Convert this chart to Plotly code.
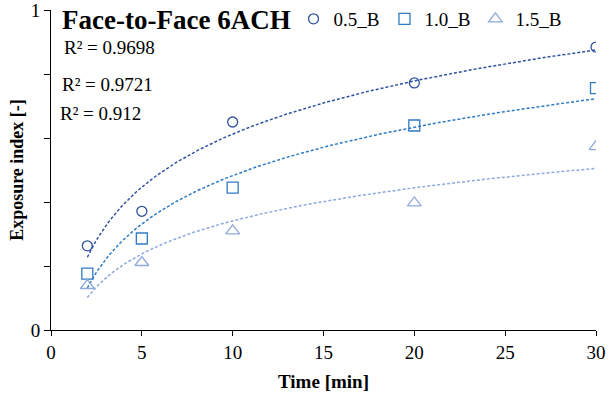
import numpy as np
import plotly.graph_objects as go

time_min = [2, 5, 10, 20, 30]
series_names = ["0.5_B", "1.0_B", "1.5_B"]
values_05 = [0.263, 0.371, 0.650, 0.772, 0.884]
values_10 = [0.176, 0.286, 0.445, 0.639, 0.756]
values_15 = [0.139, 0.211, 0.310, 0.397, 0.573]
r2_labels = ["R² = 0.9698", "R² = 0.9721", "R² = 0.912"]
y_tickvals = [0, 0.2, 0.4, 0.6, 0.8, 1]
y_ticktext = ["0", "", "", "", "", "1"]
x_tickvals = [0, 5, 10, 15, 20, 25, 30]

colors = ["#2F52A0", "#2E7BC4", "#8FAADC"]
symbols = ["circle-open", "square-open", "triangle-up-open"]
sizes = [10, 11, 12]
all_values = [values_05, values_10, values_15]

FONT = "Liberation Serif, Times New Roman, serif"

fig = go.Figure()
x_fit = np.linspace(min(time_min), max(time_min), 200)
for name, vals, col in zip(series_names, all_values, colors):
    a, b = np.polyfit(np.log(time_min), vals, 1)
    fig.add_trace(go.Scatter(
        x=x_fit, y=a * np.log(x_fit) + b, mode="lines",
        line=dict(color=col, width=1.5, dash="3px,2px"),
        showlegend=False, hoverinfo="skip"))

for name, vals, col, sym, sz in zip(series_names, all_values, colors, symbols, sizes):
    fig.add_trace(go.Scatter(
        x=time_min, y=vals, mode="markers", name=name,
        marker=dict(symbol=sym, size=sz, color=col, line=dict(color=col, width=1.3))))

fig.update_layout(
    width=609, height=400,
    margin=dict(l=51, r=13, t=10, b=70, autoexpand=False),
    paper_bgcolor="white", plot_bgcolor="white",
    font=dict(family=FONT, size=18, color="black"),
    showlegend=True,
    legend=dict(orientation="h", x=0.445, y=0.972, xanchor="left", yanchor="middle",
                bgcolor="rgba(0,0,0,0)", font=dict(size=19, family=FONT),
                itemwidth=30, tracegroupgap=0),
    xaxis=dict(range=[0, 30], tickvals=x_tickvals, showline=True, linecolor="black",
               linewidth=1, ticks="outside", ticklen=5, tickcolor="black",
               showgrid=False, zeroline=False, tickfont=dict(size=19), automargin=False,
               ticklabeloverflow="allow",
               title=dict(text="<b>Time [min]</b>", font=dict(size=19), standoff=12)),
    yaxis=dict(range=[0, 1], tickvals=y_tickvals, ticktext=y_ticktext, showline=True,
               linecolor="black", linewidth=1, ticks="outside", ticklen=6,
               tickcolor="black", showgrid=False, zeroline=False, automargin=False,
               tickfont=dict(size=19), ticklabeloverflow="allow",
               title=dict(text="<b>Exposure index [-]</b>", font=dict(size=18), standoff=2)),
)

fig.add_annotation(text="<b>Face-to-Face 6ACH</b>", xref="paper", yref="paper",
                   x=0.016, y=0.97, xanchor="left", yanchor="middle", showarrow=False,
                   font=dict(size=27, family=FONT))
r2_pos = [(0.02, 0.884), (0.016, 0.766), (0.013, 0.678)]
for txt, (px, py) in zip(r2_labels, r2_pos):
    fig.add_annotation(text=txt, xref="paper", yref="paper", x=px, y=py,
                       xanchor="left", yanchor="middle", showarrow=False,
                       font=dict(size=19, family=FONT))

fig.write_html(
    "out.html",
    config={"displayModeBar": False},
    post_script="document.body.style.margin='0';document.body.style.overflow='hidden';",
)
